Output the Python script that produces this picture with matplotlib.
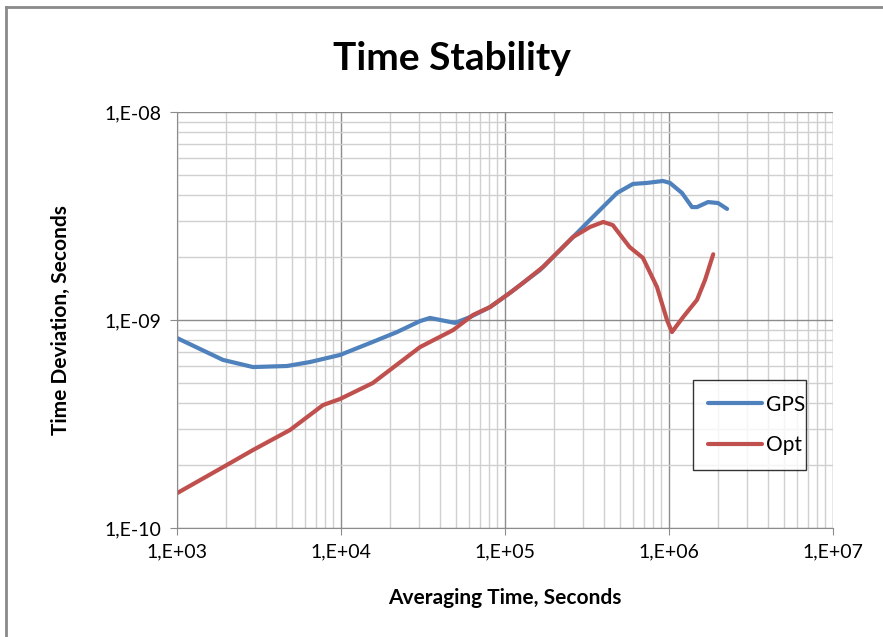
import math
import matplotlib
matplotlib.use("Agg")
import matplotlib.pyplot as plt
from matplotlib.ticker import LogLocator, FuncFormatter, NullFormatter
from matplotlib.lines import Line2D

gps_x = [1000, 1905, 2904, 4688, 6474, 9860, 15030, 21950, 30330, 34900, 49600, 61200,
         81100, 107000, 128800, 163400, 260000, 330000, 482000, 603000, 734000, 919000,
         1014000, 1200000, 1381000, 1482000, 1730000, 1991000, 2260000]
gps_y = [8.19e-10, 6.43e-10, 5.94e-10, 6.01e-10, 6.28e-10, 6.79e-10, 7.75e-10, 8.75e-10,
         9.88e-10, 1.023e-9, 9.68e-10, 1.033e-9, 1.154e-9, 1.349e-9, 1.508e-9, 1.738e-9,
         2.506e-9, 3.03e-9, 4.08e-9, 4.51e-9, 4.56e-9, 4.66e-9, 4.56e-9, 4.08e-9, 3.49e-9,
         3.49e-9, 3.69e-9, 3.65e-9, 3.42e-9]
opt_x = [1000, 1905, 2904, 4889, 7769, 9860, 15640, 30330, 48300, 63800, 81100, 107000,
         128800, 170600, 260000, 330000, 397000, 454000, 576000, 693000, 845000, 972000,
         1042000, 1216000, 1482000, 1660000, 1861000]
opt_y = [1.47e-10, 1.96e-10, 2.37e-10, 2.96e-10, 3.90e-10, 4.17e-10, 4.98e-10, 7.41e-10,
         8.95e-10, 1.057e-9, 1.154e-9, 1.349e-9, 1.508e-9, 1.80e-9, 2.506e-9, 2.80e-9,
         2.96e-9, 2.86e-9, 2.24e-9, 1.99e-9, 1.44e-9, 1.0e-9, 8.75e-10, 1.03e-9, 1.25e-9,
         1.56e-9, 2.07e-9]

plt.rcParams['font.family'] = ['Lato', 'DejaVu Sans']

W, H = 883, 637
fig = plt.figure(figsize=(W / 100, H / 100), dpi=100)
# outer chart frame (left and top edges visible)
fig.lines.append(Line2D([6 / W, 6 / W], [0, 1 - 7 / H], transform=fig.transFigure,
                        color='#8a8a8a', lw=2))
fig.lines.append(Line2D([6 / W, 1], [1 - 7 / H, 1 - 7 / H], transform=fig.transFigure,
                        color='#8a8a8a', lw=2))

ax = fig.add_axes([177 / W, 1 - 528 / H, (833 - 177) / W, (528 - 112) / H])

ax.plot(gps_x, gps_y, color='#4F81BD', lw=3, label='GPS', solid_capstyle='round',
        solid_joinstyle='round')
ax.plot(opt_x, opt_y, color='#C0504D', lw=3, label='Opt', solid_capstyle='round',
        solid_joinstyle='round')

ax.set_xscale('log')
ax.set_yscale('log')
ax.set_xlim(1e3, 1e7)
ax.set_ylim(1e-10, 1e-8)

ax.xaxis.set_major_locator(LogLocator(base=10, numticks=10))
ax.yaxis.set_major_locator(LogLocator(base=10, numticks=10))
ax.xaxis.set_minor_locator(LogLocator(base=10, subs=range(2, 10), numticks=20))
ax.yaxis.set_minor_locator(LogLocator(base=10, subs=range(2, 10), numticks=20))
ax.xaxis.set_minor_formatter(NullFormatter())
ax.yaxis.set_minor_formatter(NullFormatter())


def fmt(v, pos):
    e = int(round(math.log10(v)))
    sign = '+' if e >= 0 else '-'
    return f"1,E{sign}{abs(e):02d}"


ax.xaxis.set_major_formatter(FuncFormatter(fmt))
ax.yaxis.set_major_formatter(FuncFormatter(fmt))

ax.grid(True, which='major', color='#8c8c8c', lw=1.0)
ax.grid(True, which='minor', color='#d0d0d0', lw=1.0)
ax.set_axisbelow(True)
for s in ['top', 'right']:
    ax.spines[s].set_visible(False)
for s in ['left', 'bottom']:
    ax.spines[s].set_color('#8c8c8c')
ax.tick_params(which='major', length=5, color='#8c8c8c', labelsize=14, pad=6)
ax.tick_params(which='minor', length=0)

fig.text(452 / W, 1 - 58 / H, 'Time Stability', fontsize=28, fontweight='bold',
         ha='center', va='center')
ax.set_xlabel('Averaging Time, Seconds', fontsize=15, fontweight='bold', labelpad=20)
ax.set_ylabel('Time Deviation, Seconds', fontsize=15, fontweight='bold', labelpad=24)

leg = ax.legend(loc='lower left',
                bbox_to_anchor=((693 - 177) / 656, (528 - 470) / 416,
                                (806 - 693) / 656, (470 - 380) / 416),
                mode='expand', fontsize=15, frameon=True, fancybox=False, handlelength=2.6,
                labelspacing=1.0, borderpad=0.7, handletextpad=0.2, borderaxespad=0)
leg.get_frame().set_edgecolor('black')
leg.get_frame().set_linewidth(1.0)

fig.savefig('out.png', dpi=100, facecolor='white')
